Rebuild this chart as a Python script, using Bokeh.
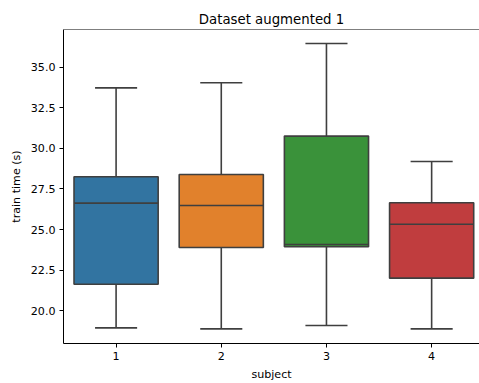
from bokeh.plotting import figure
from bokeh.models import Range1d, FixedTicker, Span, NumeralTickFormatter
from bokeh.embed import file_html
from bokeh.resources import INLINE

# Per-subject training time summary (seconds)
subjects = ["1", "2", "3", "4"]
whisker_low = [18.95, 18.89, 19.10, 18.89]
q1 = [21.64, 23.90, 23.94, 22.01]
median = [26.63, 26.48, 24.08, 25.33]
q3 = [28.25, 28.39, 30.75, 26.65]
whisker_high = [33.72, 34.03, 36.45, 29.19]
colors = ["#3274a1", "#e1812c", "#3a923a", "#c03d3e"]
y_ticks = [20.0, 22.5, 25.0, 27.5, 30.0, 32.5, 35.0]

FONT = "DejaVu Sans"
EDGE = "#3f3f3f"
LW = 1.6
BOX_W = 0.8
CAP_W = 0.4

xs = list(range(1, len(subjects) + 1))

p = figure(width=479, height=383, output_backend="svg", toolbar_location=None,
           x_range=Range1d(0.5, 4.455), y_range=Range1d(17.99, 37.31),
           title="Dataset augmented 1")
p.min_border_left = 63
p.min_border_right = 0
p.min_border_top = 29
p.min_border_bottom = 40
p.outline_line_color = None
p.background_fill_color = "white"
p.border_fill_color = "white"
p.xgrid.visible = False
p.ygrid.visible = False

p.title.align = "center"
p.title.text_font = FONT
p.title.text_font_size = "13.3px"
p.title.text_font_style = "normal"
p.title.text_color = "#000000"
p.title.standoff = 6

# Top spine
p.add_layout(Span(location=37.31, dimension="width", line_color="#000000", line_width=1))

for ax in (p.xaxis, p.yaxis):
    ax.axis_line_color = "#000000"
    ax.axis_line_width = 1
    ax.major_tick_line_color = "#000000"
    ax.major_tick_line_width = 1
    ax.major_tick_out = 4
    ax.major_tick_in = 0
    ax.minor_tick_line_color = None
    ax.major_label_text_font = FONT
    ax.major_label_text_font_size = "11.1px"
    ax.major_label_text_color = "#000000"
    ax.major_label_standoff = 4
    ax.axis_label_text_font = FONT
    ax.axis_label_text_font_size = "11.1px"
    ax.axis_label_text_font_style = "normal"
    ax.axis_label_text_color = "#000000"
    ax.axis_label_standoff = 5

p.xaxis.ticker = FixedTicker(ticks=xs)
p.xaxis.major_label_overrides = {x: s for x, s in zip(xs, subjects)}
p.xaxis.axis_label = "subject"
p.yaxis.ticker = FixedTicker(ticks=y_ticks)
p.yaxis.formatter = NumeralTickFormatter(format="0.0")
p.yaxis.axis_label = "train time (s)"

# Whiskers
p.segment(x0=xs, x1=xs, y0=whisker_low, y1=q1, line_color=EDGE, line_width=LW)
p.segment(x0=xs, x1=xs, y0=q3, y1=whisker_high, line_color=EDGE, line_width=LW)
# Caps
p.segment(x0=[x - CAP_W / 2 for x in xs], x1=[x + CAP_W / 2 for x in xs],
          y0=whisker_low, y1=whisker_low, line_color=EDGE, line_width=LW)
p.segment(x0=[x - CAP_W / 2 for x in xs], x1=[x + CAP_W / 2 for x in xs],
          y0=whisker_high, y1=whisker_high, line_color=EDGE, line_width=LW)
# Boxes
p.vbar(x=xs, width=BOX_W, bottom=q1, top=q3, fill_color=colors,
       line_color=EDGE, line_width=LW)
# Medians
p.segment(x0=[x - BOX_W / 2 for x in xs], x1=[x + BOX_W / 2 for x in xs],
          y0=median, y1=median, line_color=EDGE, line_width=LW)

open("out.html", "w").write(file_html(p, INLINE))
